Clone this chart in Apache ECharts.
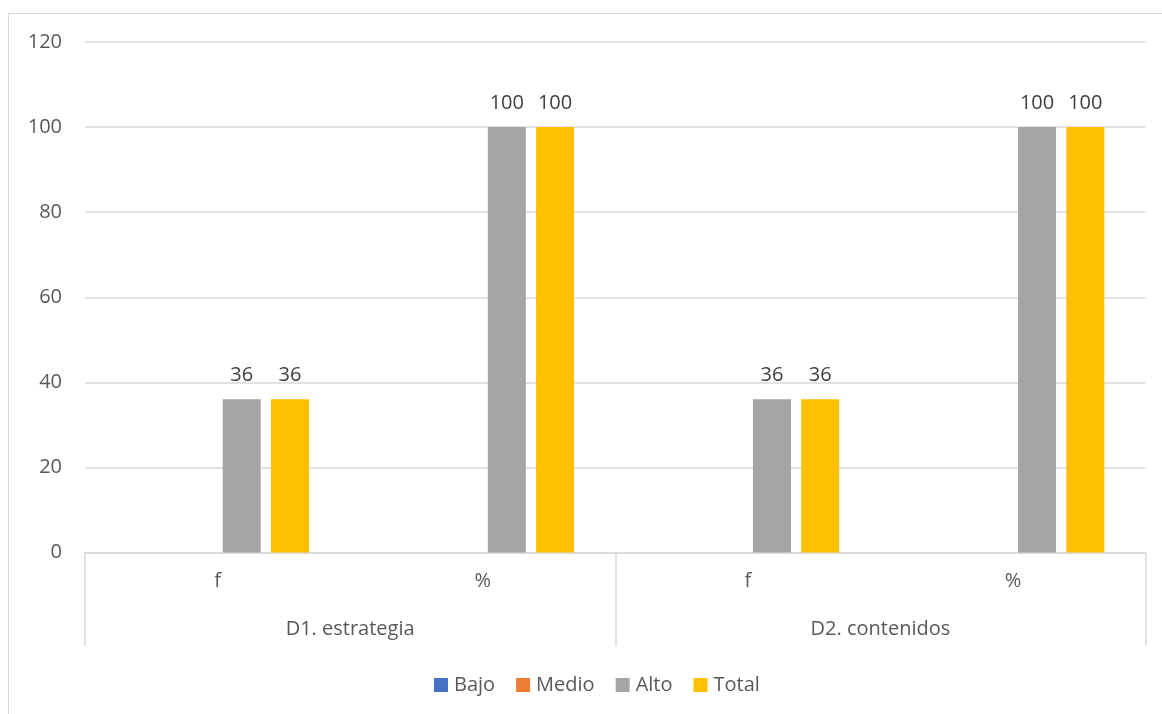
<!DOCTYPE html>
<html>
<head>
<meta charset="utf-8">
<script src="https://cdn.jsdelivr.net/npm/echarts@6/dist/echarts.min.js"></script>
<style>
html,body{margin:0;padding:0;background:#fff;}
#chart{width:1162px;height:714px;}
</style>
</head>
<body>
<div id="chart"></div>
<script>
var categories = ['f', '%', 'f', '%'];
var groups = ['D1. estrategia', 'D2. contenidos'];
var seriesNames = ['Bajo', 'Medio', 'Alto', 'Total'];
var bajo = [null, null, null, null];
var medio = [null, null, null, null];
var alto = [36, 100, 36, 100];
var total = [36, 100, 36, 100];
var colors = ['#4472C4', '#ED7D31', '#A5A5A5', '#FFC000'];

var FONT = '"Open Sans", sans-serif';
var chart = echarts.init(document.getElementById('chart'), null, {renderer: 'canvas'});

function mk(name, data, color) {
  return {
    name: name,
    type: 'bar',
    data: data,
    barWidth: 38,
    barGap: '27%',
    itemStyle: {color: color},
    label: {
      show: true,
      position: 'top',
      distance: 14,
      fontFamily: FONT,
      fontSize: 20,
      color: '#404040'
    }
  };
}

chart.setOption({
  animation: false,
  color: colors,
  textStyle: {fontFamily: FONT},
  graphic: [{
    type: 'rect',
    shape: {x: 8.5, y: 13.5, width: 1300, height: 900},
    style: {fill: null, stroke: '#D9D9D9', lineWidth: 1},
    silent: true,
    z: -10
  }],
  grid: {left: 85, right: 16.5, top: 42, bottom: 161.5, containLabel: false},
  legend: {
    left: 429,
    top: 670,
    itemWidth: 14,
    itemHeight: 14,
    itemGap: 21,
    icon: 'rect',
    textStyle: {fontFamily: FONT, fontSize: 20, color: '#595959', padding: [0, 0, 0, 1]},
    data: seriesNames
  },
  xAxis: [{
    type: 'category',
    data: categories,
    position: 'bottom',
    axisLine: {show: true, lineStyle: {color: '#D9D9D9', width: 1.5}},
    axisTick: {show: false},
    axisLabel: {margin: 19, fontFamily: FONT, fontSize: 20, color: '#595959'},
    splitLine: {show: false}
  }, {
    type: 'category',
    data: groups,
    position: 'bottom',
    axisLine: {show: false},
    axisTick: {show: true, length: 93, alignWithLabel: false, lineStyle: {color: '#D9D9D9', width: 1.5}},
    axisLabel: {margin: 67, fontFamily: FONT, fontSize: 20, color: '#595959'},
    splitLine: {show: false}
  }],
  yAxis: {
    type: 'value',
    min: 0,
    max: 120,
    interval: 20,
    axisLine: {show: false},
    axisTick: {show: false},
    axisLabel: {margin: 23, fontFamily: FONT, fontSize: 20, color: '#595959'},
    splitLine: {lineStyle: {color: '#D9D9D9', width: 1.5}}
  },
  series: [
    mk(seriesNames[0], bajo, colors[0]),
    mk(seriesNames[1], medio, colors[1]),
    mk(seriesNames[2], alto, colors[2]),
    mk(seriesNames[3], total, colors[3])
  ]
});
</script>
</body>
</html>
